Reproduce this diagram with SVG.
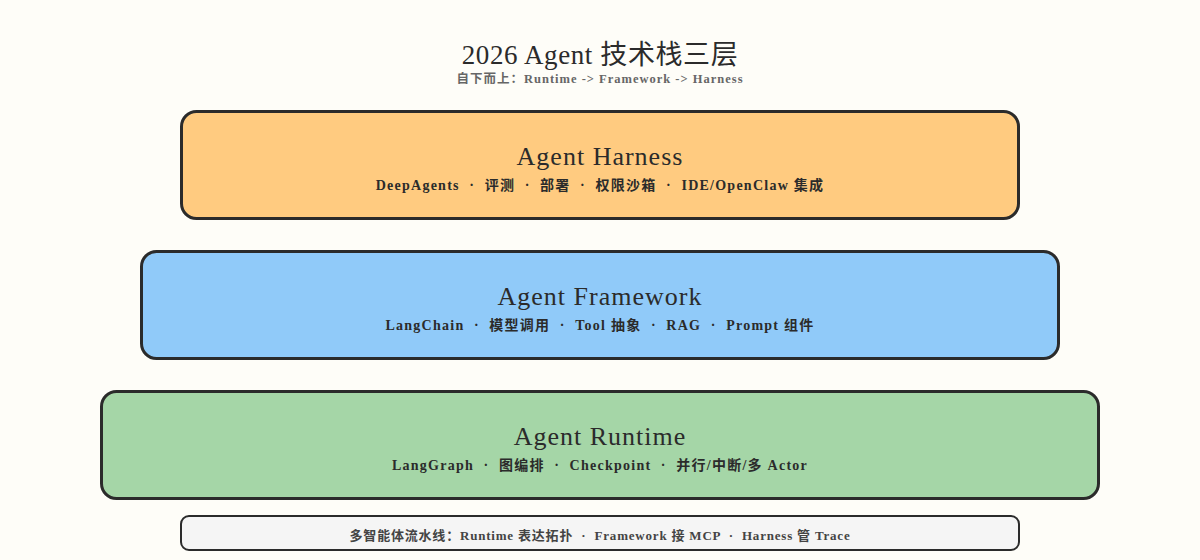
<svg xmlns="http://www.w3.org/2000/svg" width="1200" height="560" viewBox="0 0 1200 560" xml:space="preserve">
<style>
.layer{stroke:#2b2b2b;stroke-width:3}
.t{font-family:"Liberation Serif","Noto Sans CJK SC",serif;fill:#2b2b2b;text-anchor:middle;white-space:pre}
.h{font-size:26px;letter-spacing:1px}
.s{font-size:14px;font-weight:bold;letter-spacing:1.25px}
</style>
<rect x="0" y="0" width="1200" height="560" fill="#FEFDF8"/>
<g id="title">
<text class="t" x="600" y="64" font-size="27" letter-spacing="0.6">2026 Agent 技术栈三层</text>
<text class="t" x="600" y="83" font-size="12.5" font-weight="bold" letter-spacing="1" style="fill:#666666">自下而上：Runtime -&gt; Framework -&gt; Harness</text>
</g>
<g id="connectors"></g>
<g id="harness">
<rect class="layer" x="181.5" y="111.5" width="837" height="107" rx="15" fill="#FFCB80"/>
<text class="t h" x="600" y="165">Agent Harness</text>
<text class="t s" x="600" y="190">DeepAgents  ·  评测  ·  部署  ·  权限沙箱  ·  IDE/OpenClaw 集成</text>
</g>
<g id="framework">
<rect class="layer" x="141.5" y="251.5" width="917" height="107" rx="15" fill="#90CAF9"/>
<text class="t h" x="600" y="305">Agent Framework</text>
<text class="t s" x="600" y="330">LangChain  ·  模型调用  ·  Tool 抽象  ·  RAG  ·  Prompt 组件</text>
</g>
<g id="runtime">
<rect class="layer" x="101.5" y="391.5" width="997" height="107" rx="15" fill="#A5D6A7"/>
<text class="t h" x="600" y="445">Agent Runtime</text>
<text class="t s" x="600" y="470">LangGraph  ·  图编排  ·  Checkpoint  ·  并行/中断/多 Actor</text>
</g>
<g id="note">
<rect x="181" y="516" width="838" height="34" rx="8" fill="#F5F5F5" stroke="#2b2b2b" stroke-width="2"/>
<text class="t" x="600" y="540" font-size="13" font-weight="bold" letter-spacing="0.8" style="fill:#444444">多智能体流水线：Runtime 表达拓扑  ·  Framework 接 MCP  ·  Harness 管 Trace</text>
</g>
</svg>
